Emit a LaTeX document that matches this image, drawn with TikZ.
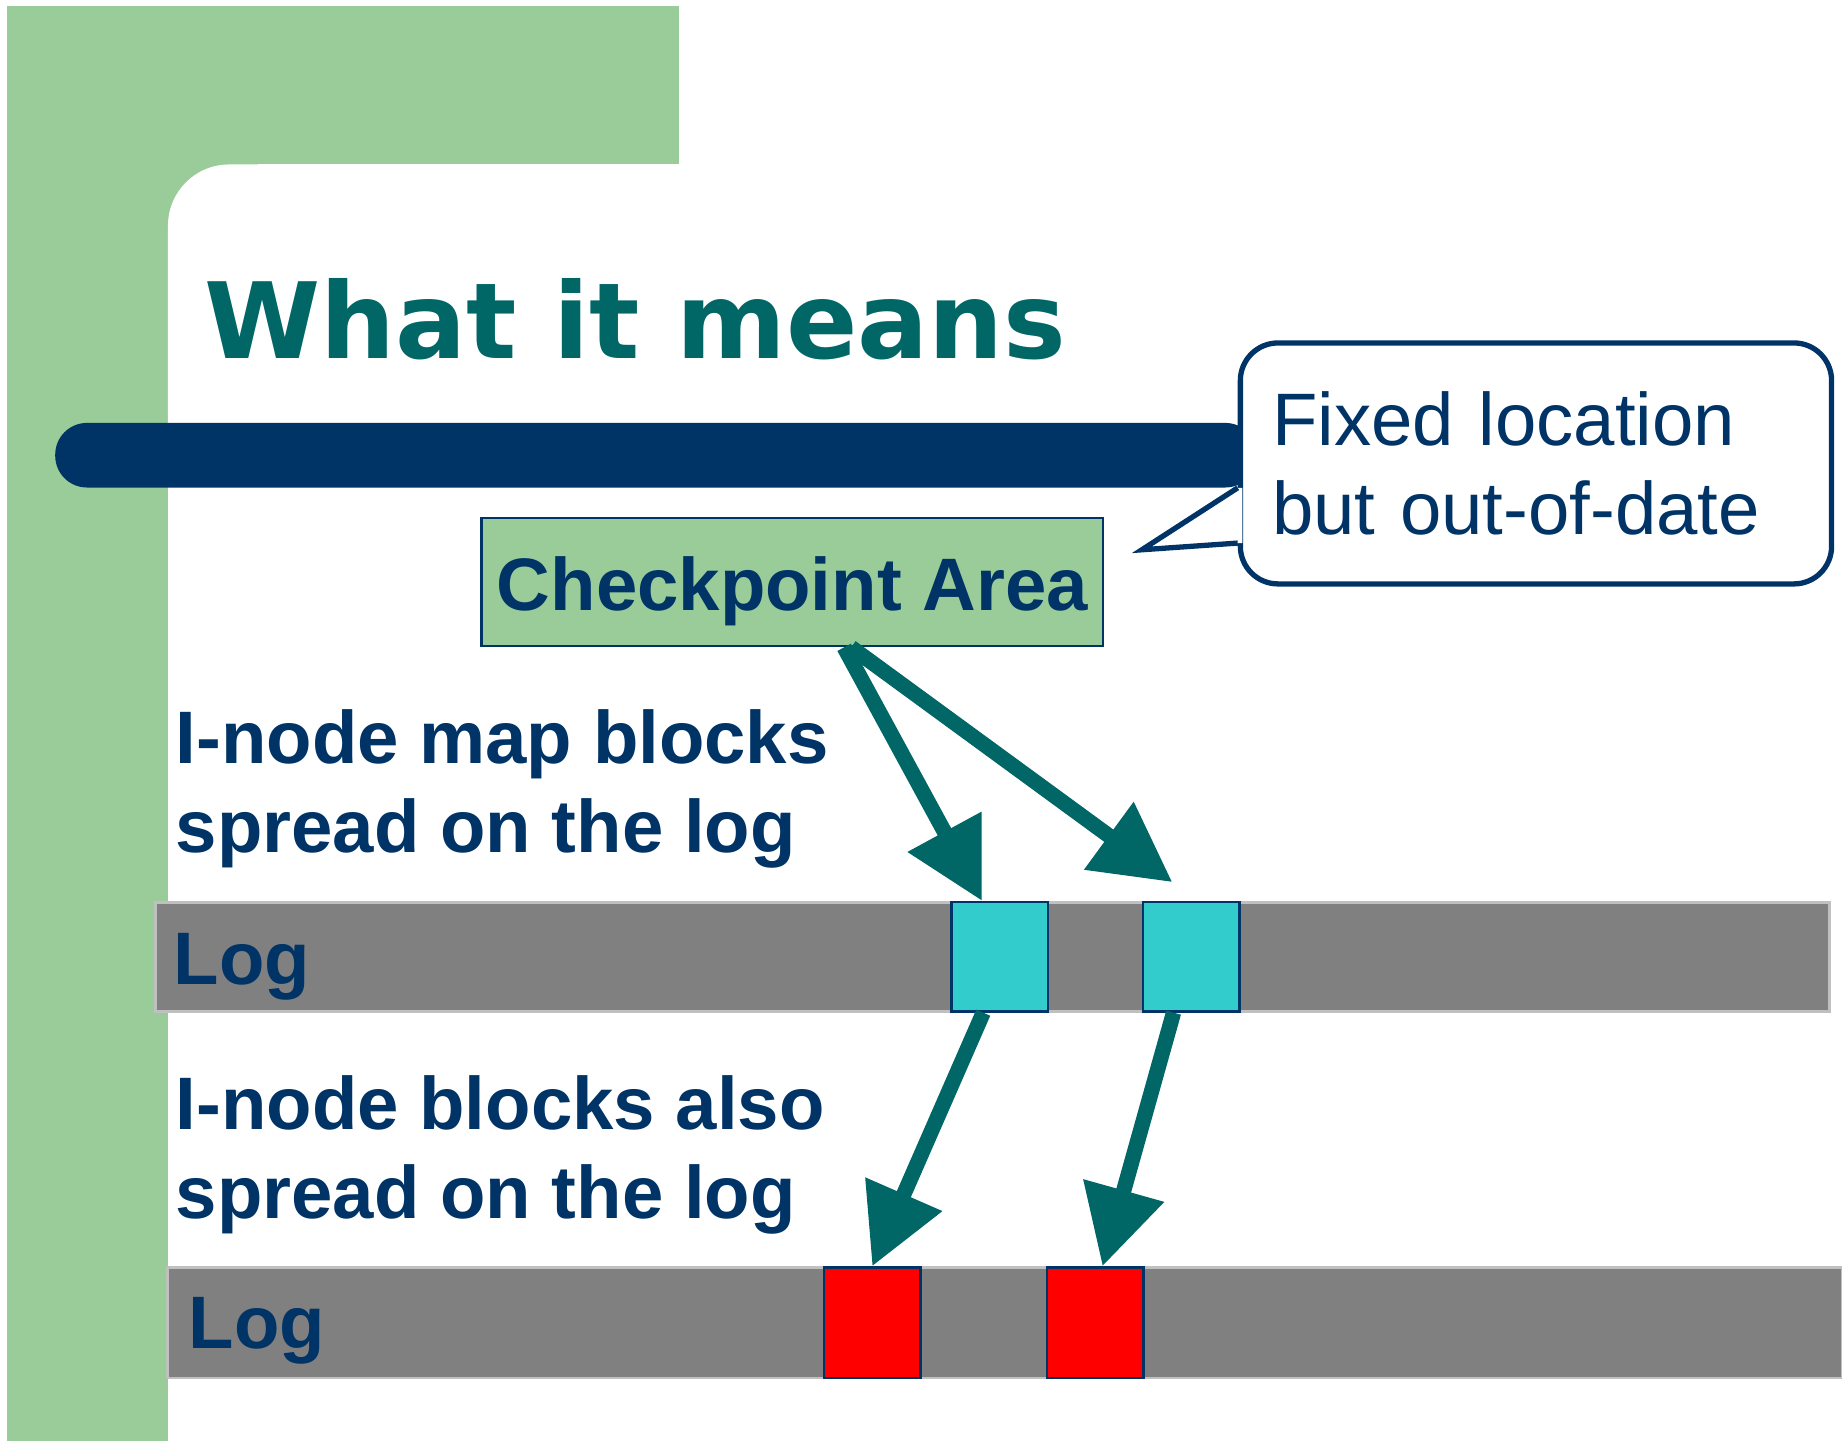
\documentclass[tikz,border=0pt]{standalone}
\usepackage{fontspec}
\setmainfont{Liberation Sans}
\newfontfamily\titlefont{DejaVu Sans}
\usetikzlibrary{arrows.meta}
\definecolor{slidegreen}{HTML}{99CC99}
\definecolor{slidenavy}{HTML}{003366}
\definecolor{slideteal}{HTML}{006666}
\definecolor{blockcyan}{HTML}{33CCCC}
\definecolor{logrim}{HTML}{C0C0C0}

\begin{document}
\begin{tikzpicture}[x=0.01cm,y=-0.01cm]
  \tikzstyle{txt}=[anchor=north west, inner sep=0, align=left, text=slidenavy,
font=\fontsize{18pt}{21.6pt}\selectfont\bfseries]
  \tikzstyle{logbar}=[draw=logrim, line width=0.025cm, fill=gray, inner ysep=0, align=left,
text=slidenavy, font=\fontsize{18pt}{21.6pt}\selectfont\bfseries]
  \tikzstyle{block}=[draw=slidenavy, line width=0.02cm, inner sep=0, minimum width=0.82cm,
minimum height=0.93cm]
  \tikzstyle{ptr}=[-{Triangle[length=0.67cm,width=0.68cm]}, line width=0.13cm, slideteal]
  \useasboundingbox (0,0) rectangle (1568,1227);

  \fill[slidegreen] (6,5) rectangle (578,140);
  \fill[slidegreen] (6,5) rectangle (143,1227);
  \fill[slidegreen] (143,140) rectangle (220,220);
  \fill[white, rounded corners=0.52cm] (143,140) rectangle (420,420);
  \fill[slidenavy, rounded corners=0.27cm] (47,360) rectangle (1070,415);

  \node[anchor=base west, inner sep=0, text=slideteal,
font=\fontsize{25.5pt}{30pt}\titlefont\bfseries] (title) at (173,305) {What it means};

  \node[draw=slidenavy, line width=0.045cm, fill=white, rounded corners=0.32cm, text width=4.49cm,
align=left, inner xsep=0.27cm, minimum height=2.05cm, text=slidenavy,
font=\fontsize{18pt}{21.6pt}\selectfont] (note) at (1307.5,394.5) {Fixed location\\but out-of-date};
  \coordinate (tip) at (972,468);
  \fill[white] ([yshift=0.84cm]note.south west) -- (tip) -- ([yshift=0.37cm]note.south west)
-- ++(4,0) |- ([yshift=0.84cm]note.south west) -- cycle;
  \draw[slidenavy, line width=0.045cm] ([yshift=0.84cm]note.south west) -- (tip)
-- ([yshift=0.37cm]note.south west);

  \node[draw=slidenavy, line width=0.02cm, fill=slidegreen, inner sep=0, minimum width=5.29cm,
text height=0.79cm, text depth=0.3cm, text=slidenavy,
font=\fontsize{18pt}{21.6pt}\selectfont\bfseries] (ckpt) at (674.5,495.5) {Checkpoint Area};

  \node[txt] (mapnote) at (149,603) {I-node map blocks\\spread on the log};
  \node[txt] (inonote) at (149,915) {I-node blocks also\\spread on the log};

  \node[logbar, inner xsep=0.155cm, text width=13.93cm, text height=0.7cm, text depth=0.23cm]
(logA) at (845,814.5) {Log};
  \node[logbar, inner xsep=0.18cm, text width=13.89cm, text height=0.69cm, text depth=0.25cm]
(logB) at (855.5,1126) {Log};

  \node[block, fill=blockcyan] (map1) at (851,814.5) {};
  \node[block, fill=blockcyan] (map2) at (1014,814.5) {};
  \node[block, fill=red, minimum height=0.94cm] (ino1) at (742.5,1126) {};
  \node[block, fill=red, minimum height=0.94cm] (ino2) at (932.5,1126) {};

  \draw[ptr] ([xshift=0.44cm]ckpt.south) -- ([xshift=-0.15cm]map1.north);
  \draw[ptr] ([xshift=0.5cm]ckpt.south) -- ([xshift=-0.16cm,yshift=0.16cm]map2.north);
  \draw[ptr] ([xshift=-0.14cm]map1.south) -- (ino1.north);
  \draw[ptr] ([xshift=-0.15cm]map2.south) -- ([xshift=0.06cm]ino2.north);
\end{tikzpicture}
\end{document}
